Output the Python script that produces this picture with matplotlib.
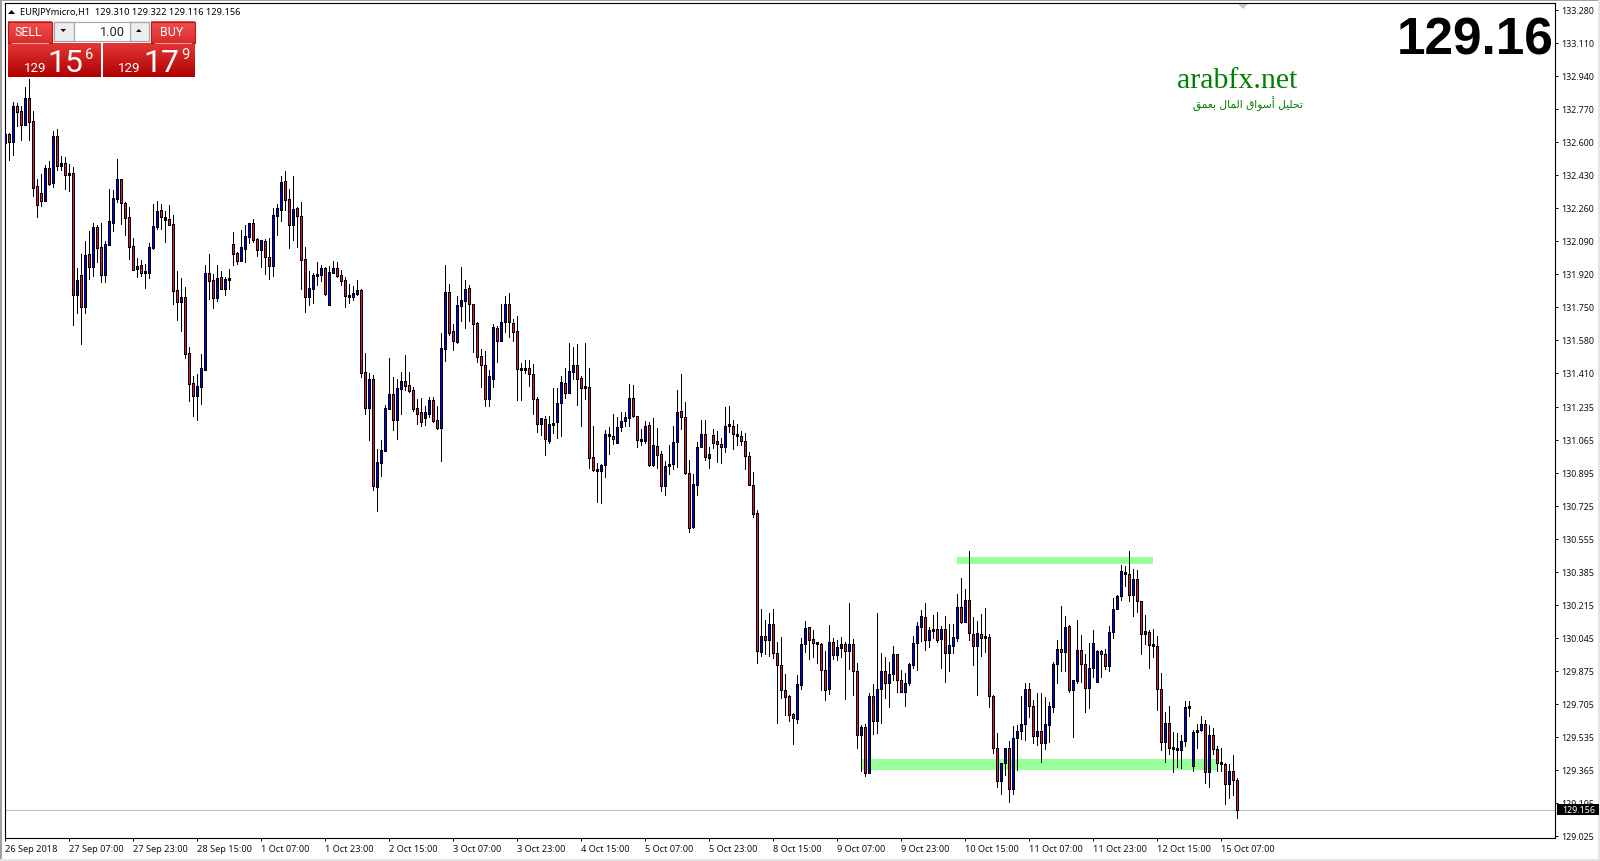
import numpy as np
import matplotlib
matplotlib.use("Agg")
import matplotlib.pyplot as plt
from matplotlib.patches import Rectangle, Polygon
from matplotlib.transforms import ScaledTranslation

symbol_text = "EURJPYmicro,H1  129.310 129.322 129.116 129.156"
big_price = "129.16"
last_price = 129.156
last_label = "129.156"

highs = [
132.693,132.646,132.804,132.801,132.787,132.882,132.924,132.758,132.409,132.433,
132.480,132.500,132.656,132.665,132.526,132.521,132.486,132.471,131.949,132.021,
132.088,132.139,132.181,132.172,132.181,132.088,132.356,132.352,132.512,132.407,
132.289,132.263,132.103,132.000,131.990,131.969,132.078,132.280,132.294,132.280,
132.243,132.275,132.224,131.935,131.897,131.851,131.542,131.392,131.402,131.506,
131.964,132.021,131.918,131.964,131.935,131.902,131.945,132.134,132.031,132.146,
132.172,132.180,132.201,132.107,132.095,132.098,132.103,132.258,132.278,132.423,
132.448,132.356,132.423,132.263,132.289,132.057,131.935,131.923,131.979,131.964,
131.957,131.959,131.985,131.979,131.938,131.902,131.866,131.858,131.887,131.840,
131.511,131.407,131.397,131.016,131.062,131.243,131.485,131.387,131.377,131.413,
131.500,131.413,131.335,131.273,131.279,131.237,131.284,131.284,131.237,131.614,
131.964,131.866,131.660,131.804,131.954,131.887,131.861,131.763,131.670,131.532,
131.521,131.425,131.662,131.653,131.763,131.804,131.820,131.686,131.701,131.463,
131.475,131.475,131.454,131.284,131.176,131.186,131.186,131.331,131.331,131.393,
131.434,131.563,131.542,131.557,131.393,131.563,131.434,131.135,130.944,130.939,
131.114,131.130,131.197,131.181,131.207,131.207,131.351,131.346,131.186,131.119,
131.161,131.155,131.176,131.125,131.006,130.955,131.037,131.135,131.320,131.403,
131.259,130.960,130.887,131.052,131.166,131.166,131.027,131.119,131.109,131.073,
131.233,131.238,131.166,131.145,131.109,131.099,131.001,130.898,130.702,130.191,
130.135,130.171,130.191,130.021,130.047,129.856,129.748,129.655,129.851,130.042,
130.130,130.099,130.083,130.021,130.016,129.975,130.109,130.042,130.032,130.047,
130.021,130.222,130.037,129.913,129.594,129.599,129.758,129.805,130.171,129.965,
129.944,129.918,130.001,129.959,129.877,129.862,129.913,130.052,130.124,130.186,
130.222,130.099,130.162,130.176,130.104,130.155,130.114,130.114,130.269,130.351,
130.294,130.490,130.150,130.130,130.166,130.196,130.062,129.748,129.553,129.398,
129.475,129.511,129.589,129.594,129.743,129.810,129.810,129.723,129.759,129.759,
129.738,129.712,129.918,130.032,130.207,130.155,130.109,129.826,130.135,130.058,
129.960,130.016,130.083,129.980,129.980,129.985,130.104,130.248,130.264,130.418,
130.413,130.490,130.398,130.393,130.233,130.161,130.083,130.088,130.052,129.862,
129.661,129.692,129.558,129.553,129.542,129.717,129.717,129.568,129.599,129.640,
129.620,129.594,129.578,129.486,129.475,129.398,129.393,129.439,129.322]

body_tops = [
132.641,132.641,132.784,132.784,132.758,132.825,132.825,132.706,132.371,132.335,
132.464,132.464,132.629,132.629,132.490,132.490,132.438,132.438,131.887,131.913,
132.016,132.021,132.160,132.160,132.057,132.072,132.191,132.309,132.407,132.407,
132.284,132.212,132.062,131.961,131.964,131.933,132.057,132.165,132.243,132.248,
132.212,132.201,132.175,131.835,131.799,131.799,131.511,131.356,131.341,131.433,
131.923,131.923,131.887,131.897,131.902,131.892,131.897,132.072,132.026,132.057,
132.113,132.180,132.180,132.098,132.093,132.088,132.005,132.222,132.258,132.392,
132.397,132.304,132.253,132.258,132.217,131.995,131.845,131.912,131.918,131.949,
131.949,131.928,131.949,131.949,131.912,131.887,131.811,131.820,131.835,131.835,
131.413,131.377,131.377,130.949,131.011,131.227,131.299,131.299,131.330,131.366,
131.366,131.346,131.320,131.227,131.206,131.206,131.268,131.268,131.165,131.536,
131.825,131.825,131.624,131.758,131.784,131.840,131.845,131.763,131.665,131.496,
131.449,131.393,131.645,131.641,131.670,131.763,131.763,131.665,131.624,131.434,
131.434,131.434,131.403,131.274,131.176,131.171,131.145,131.150,131.253,131.362,
131.356,131.418,131.449,131.449,131.382,131.341,131.336,130.975,130.913,130.934,
131.094,131.088,131.083,131.130,131.161,131.181,131.279,131.279,131.186,131.068,
131.135,131.140,131.037,131.032,130.991,130.929,130.939,131.052,131.207,131.212,
131.181,130.893,130.836,131.027,131.094,131.094,130.991,131.088,131.058,131.042,
131.135,131.140,131.135,131.094,131.083,131.058,130.980,130.831,130.686,130.052,
130.052,130.114,130.114,129.965,129.903,129.774,129.743,129.650,129.805,130.011,
130.093,130.099,130.037,130.018,130.011,129.877,130.021,130.021,129.996,130.011,
130.011,130.011,130.011,129.872,129.583,129.583,129.743,129.743,129.779,129.872,
129.872,129.856,129.959,129.959,129.825,129.810,129.908,130.016,130.104,130.155,
130.150,130.083,130.088,130.088,130.088,130.088,130.006,130.047,130.202,130.202,
130.238,130.238,130.062,130.068,130.062,130.052,130.047,129.743,129.475,129.398,
129.475,129.475,129.527,129.563,129.599,129.779,129.779,129.692,129.563,129.563,
129.599,129.692,129.908,129.985,129.985,130.099,130.104,129.826,129.980,129.980,
129.908,129.887,130.016,129.975,129.975,129.960,130.073,130.192,130.259,130.387,
130.382,130.372,130.346,130.346,130.233,130.078,130.073,130.006,130.001,129.779,
129.604,129.604,129.475,129.475,129.511,129.687,129.687,129.558,129.568,129.599,
129.599,129.542,129.542,129.470,129.398,129.393,129.357,129.357,129.310]

body_bottoms = [
132.595,132.602,132.602,132.756,132.689,132.689,132.705,132.364,132.277,132.297,
132.297,132.385,132.390,132.478,132.478,132.431,132.431,131.813,131.813,131.751,
131.751,131.957,131.957,132.055,131.916,131.916,132.071,132.184,132.308,132.284,
132.210,132.060,131.942,131.947,131.926,131.926,131.926,132.055,132.163,132.215,
132.200,132.174,131.834,131.777,131.777,131.509,131.354,131.293,131.293,131.339,
131.427,131.885,131.798,131.798,131.844,131.844,131.890,132.024,131.988,131.988,
132.050,132.112,132.096,132.045,132.045,132.009,131.962,131.962,132.220,132.251,
132.302,132.174,132.174,132.220,131.993,131.803,131.803,131.844,131.911,131.916,
131.818,131.761,131.926,131.911,131.885,131.808,131.803,131.803,131.818,131.411,
131.231,131.231,130.829,130.823,130.947,131.009,131.222,131.169,131.169,131.328,
131.344,131.318,131.225,131.200,131.158,131.179,131.200,131.164,131.124,131.127,
131.535,131.617,131.572,131.567,131.756,131.782,131.763,131.660,131.490,131.453,
131.277,131.277,131.377,131.576,131.576,131.670,131.670,131.619,131.432,131.427,
131.427,131.403,131.274,131.145,131.149,131.068,131.061,131.143,131.155,131.253,
131.305,131.305,131.417,131.381,131.334,131.334,130.970,130.912,130.906,130.903,
130.934,131.083,131.068,131.047,131.130,131.161,131.176,131.186,131.063,131.058,
131.058,130.936,130.937,130.989,130.829,130.829,130.929,130.939,131.052,131.181,
130.896,130.613,130.618,130.834,131.027,130.975,130.970,131.047,131.042,131.027,
131.027,131.135,131.094,131.083,131.058,130.980,130.831,130.685,129.975,129.973,
130.035,130.035,129.968,129.903,129.774,129.741,129.649,129.630,129.624,129.800,
130.011,130.035,130.016,130.011,129.877,129.777,129.779,129.954,129.954,129.990,
129.975,129.975,129.872,129.545,129.545,129.346,129.346,129.614,129.614,129.779,
129.810,129.810,129.856,129.825,129.764,129.764,129.810,129.903,130.016,130.099,
130.032,130.032,130.081,130.032,130.037,129.965,129.965,130.001,130.042,130.124,
130.124,130.068,130.001,130.001,130.042,130.042,129.743,129.475,129.305,129.305,
129.398,129.264,129.264,129.527,129.563,129.599,129.692,129.537,129.537,129.501,
129.501,129.594,129.687,129.908,129.970,129.970,129.774,129.774,129.821,129.908,
129.784,129.784,129.887,129.815,129.960,129.898,129.898,130.073,130.192,130.259,
130.372,130.264,130.264,130.233,130.063,130.063,130.006,130.001,129.779,129.506,
129.506,129.475,129.470,129.465,129.465,129.511,129.683,129.382,129.558,129.568,
129.352,129.352,129.470,129.398,129.393,129.290,129.290,129.310,129.156]

lows = [
132.538,132.509,132.533,132.684,132.612,132.689,132.612,132.323,132.215,132.272,
132.297,132.380,132.370,132.456,132.456,132.358,132.349,131.658,131.720,131.561,
131.720,131.896,131.911,131.983,131.880,131.880,132.071,132.143,132.289,132.179,
132.122,131.999,131.942,131.906,131.911,131.849,131.901,132.047,132.151,132.153,
132.086,132.174,131.767,131.684,131.628,131.485,131.267,131.189,131.169,131.251,
131.427,131.791,131.746,131.782,131.844,131.813,131.842,131.966,131.971,131.988,
131.981,132.081,132.086,132.012,131.957,131.921,131.895,131.911,132.122,132.194,
132.251,132.055,132.096,132.060,131.844,131.725,131.761,131.772,131.864,131.885,
131.813,131.761,131.926,131.906,131.864,131.751,131.772,131.787,131.813,131.389,
131.200,131.066,130.808,130.700,130.880,131.009,131.222,131.117,131.071,131.200,
131.323,131.313,131.215,131.148,131.138,131.139,131.184,131.158,131.119,130.957,
131.473,131.607,131.529,131.562,131.679,131.643,131.679,131.519,131.468,131.338,
131.241,131.241,131.339,131.468,131.576,131.621,131.595,131.574,131.272,131.272,
131.411,131.344,131.200,131.107,131.092,130.989,131.051,131.102,131.076,131.087,
131.279,131.305,131.377,131.247,131.135,131.274,130.922,130.906,130.743,130.738,
130.875,130.991,131.042,131.047,131.109,131.135,131.138,131.181,131.027,131.037,
131.047,130.932,130.932,130.922,130.803,130.783,130.891,130.917,130.927,131.119,
130.887,130.592,130.613,130.783,131.027,130.960,130.922,131.021,130.953,130.944,
131.001,131.104,131.016,131.037,131.037,130.913,130.831,130.669,129.916,129.953,
129.963,129.953,129.942,129.607,129.736,129.649,129.618,129.499,129.607,129.783,
129.973,129.937,129.947,129.916,129.777,129.726,129.757,129.937,129.932,129.947,
129.731,129.886,129.752,129.478,129.360,129.331,129.346,129.551,129.556,129.607,
129.736,129.690,129.825,129.767,129.764,129.695,129.800,129.891,129.880,130.026,
129.982,129.996,130.045,130.021,129.891,129.815,129.875,129.965,130.026,130.119,
130.124,130.032,129.903,129.752,129.949,129.970,129.690,129.449,129.278,129.242,
129.340,129.200,129.242,129.365,129.522,129.520,129.638,129.501,129.491,129.406,
129.474,129.506,129.661,129.814,129.872,129.872,129.764,129.535,129.810,129.815,
129.664,129.685,129.841,129.815,129.841,129.882,129.872,130.042,130.192,130.238,
130.310,130.233,130.155,130.176,129.960,130.011,129.887,129.944,129.671,129.468,
129.406,129.448,129.352,129.381,129.376,129.489,129.640,129.357,129.479,129.563,
129.298,129.274,129.444,129.357,129.357,129.190,129.221,129.236,129.116]

directions = (
"UDUDDUDDDD" "UDUDUDDDUD" "UDUDDUUUUD" "DDDUDDUUUD" "DDDDUDDDUU"
"UDDUDUUDDU" "UUDDUDDUUU" "DDUDDDUUUU" "DUUDDDDUUD" "DUDUUUUDUU"
"DDDDDUUDDU" "UDDUUUDDDD" "DUUDUUDDDD" "DDDDUDUDUU" "DUUDDDDDDU"
"UDDUUUUDDD" "UDUDDUUUUD" "DDUUUDUDDD" "UDDDDDDDDU" "DUDDDDDDUU"
"UDDDDDUDUU" "DUDDUDUDUU" "DUUDDUUUUU" "DUDDUDUUUD" "UDDUDUDDDU"
"UDUUUUDDUD" "UUUUDUDUUD" "DUUUDDUUUU" "DDUDDUDDDD" "UDDDUUDUUU"
"DUDDDDUDD")

time_labels = ["26 Sep 2018", "27 Sep 07:00", "27 Sep 23:00", "28 Sep 15:00", "1 Oct 07:00",
               "1 Oct 23:00", "2 Oct 15:00", "3 Oct 07:00", "3 Oct 23:00", "4 Oct 15:00",
               "5 Oct 07:00", "5 Oct 23:00", "8 Oct 15:00", "9 Oct 07:00", "9 Oct 23:00",
               "10 Oct 15:00", "11 Oct 07:00", "11 Oct 23:00", "12 Oct 15:00", "15 Oct 07:00"]
time_ticks = list(range(0, 320, 16))
price_ticks = [133.280, 133.110, 132.940, 132.770, 132.600, 132.430, 132.260, 132.090, 131.920,
               131.750, 131.580, 131.410, 131.235, 131.065, 130.895, 130.725, 130.555, 130.385,
               130.215, 130.045, 129.875, 129.705, 129.535, 129.365, 129.195, 129.025]

# green zones: first bar, last bar, upper price, lower price
resistance_zone = (237.9, 286.9, 130.461, 130.425)
support_zone = (214.0, 303.2, 129.420, 129.365)

W, H = 1600, 862
UI_FONT = "Noto Sans"
fig = plt.figure(figsize=(W / 100, H / 100), dpi=100, facecolor="white")
L, R, T, B = 4.67, 1555.0, 4.3, 839.3
ax = fig.add_axes([L / W, (H - B) / H, (R - L) / W, (B - T) / H])
ax.set_xlim((L - 5.33) / 4, (R - 5.33) / 4)
ax.set_ylim(133.28 - (B - 11) / 194.05, 133.28 + (11 - T) / 194.05)

n = len(highs)
xs = np.arange(n)
hi, tp, bt, lo = map(np.array, (highs, body_tops, body_bottoms, lows))
up = np.array([d == "U" for d in directions])
opens = np.where(up, bt, tp)
closes = np.where(up, tp, bt)
one_px = 1 / 194.05
PT = 0.72  # one screen pixel in points at 100 dpi

for zone in (resistance_zone, support_zone):
    ax.add_patch(Rectangle((zone[0], zone[3]), zone[1] - zone[0], zone[2] - zone[3],
                           facecolor="#99FF99", edgecolor="none", zorder=1))
ax.axhline(last_price, color="#C0C0C0", lw=0.8, zorder=1.5)
ax.vlines(xs, lo, hi, colors="black", lw=PT, zorder=2, antialiased=False, capstyle="butt")
# candle body: a 3 px black stroke with a 1 px coloured core, aligned on the wick
lower = np.minimum(opens, closes)
span = np.abs(closes - opens)
ax.vlines(xs, lower, lower + np.maximum(span, 2 * one_px), colors="black", lw=3 * PT, zorder=3,
          antialiased=False, capstyle="butt")
colors = np.where(up, "#0000F0", "#E01840")
core = span > 2.5 * one_px
ax.vlines(xs[core], lower[core] + one_px, lower[core] + span[core] - one_px, colors=colors[core],
          lw=PT, zorder=4, antialiased=False, capstyle="butt")

ax.yaxis.tick_right()
ax.set_yticks(price_ticks)
ax.set_yticklabels([f"{v:.3f}" for v in price_ticks], fontfamily=UI_FONT, fontsize=6.4, color="#111111")
ax.set_xticks(time_ticks)
ax.set_xticklabels(time_labels, fontfamily=UI_FONT, fontsize=6.6, color="#111111", ha="left")
shift = ScaledTranslation(-2.5 / 100, 0, fig.dpi_scale_trans)
for lab in ax.get_xticklabels():
    lab.set_transform(lab.get_transform() + shift)
yshift = ScaledTranslation(0, -0.8 / 100, fig.dpi_scale_trans)
for lab in ax.get_yticklabels():
    lab.set_transform(lab.get_transform() + yshift)
ax.tick_params(axis="y", length=2.2, width=0.7, pad=2.6, direction="out")
ax.tick_params(axis="x", length=2.2, width=0.7, pad=2.0, direction="out")
for s in ax.spines.values():
    s.set_linewidth(0.8)
    s.set_color("black")

# overlay in screen pixels for the terminal's window furniture
ov = fig.add_axes([0, 0, 1, 1], zorder=5)
ov.patch.set_alpha(0)
ov.axis("off")

def gradient(x0, y0, x1, y1, c_top, c_bottom, edge=None):
    t = np.linspace(0, 1, 64)[:, None, None]
    img = (1 - t) * np.array(c_top)[None, None, :] + t * np.array(c_bottom)[None, None, :]
    ov.imshow(img / 255, extent=(x0, x1, y1, y0), aspect="auto", interpolation="bilinear", zorder=1)
    if edge:
        ov.add_patch(Rectangle((x0, y0), x1 - x0, y1 - y0, fill=False, edgecolor=edge, lw=0.8, zorder=2))

# window edges
ov.add_patch(Rectangle((0, 0), 1600, 1.6, color="#A0A0A0", lw=0))
ov.add_patch(Rectangle((0, 0), 2, 862, color="#A0A0A0", lw=0))
ov.add_patch(Rectangle((1598, 0), 2, 862, color="#E4E4E4", lw=0))
ov.add_patch(Rectangle((0, 860), 1600, 2, color="#E4E4E4", lw=0))

# chart-shift marker and symbol triangle
ov.add_patch(Polygon([(1238, 5), (1248, 5), (1243, 10)], color="#C4C4C4", lw=0))
ov.add_patch(Polygon([(8, 15), (15, 15), (11.5, 11)], color="black", lw=0))
ov.text(20, 12.7, symbol_text, fontsize=6.62, family=UI_FONT, va="center", ha="left", color="black")

# trade panel
gradient(8, 22.5, 52, 44, (240, 80, 80), (218, 45, 45), "#B81818")
gradient(151, 22.5, 194.5, 44, (240, 80, 80), (218, 45, 45), "#B81818")
gradient(8, 44, 100.5, 77.5, (228, 55, 55), (176, 0, 0))
gradient(103, 44, 194.5, 77.5, (228, 55, 55), (176, 0, 0))
ov.plot([12, 48], [43.5, 43.5], color="#F6A0A0", lw=0.7, zorder=3)
ov.plot([155, 191], [43.5, 43.5], color="#F6A0A0", lw=0.7, zorder=3)
ov.add_patch(Rectangle((54, 22.5), 95, 19, facecolor="white", edgecolor="#A8A8A8", lw=0.9, zorder=2))
for bx in (54, 129.5):
    ov.add_patch(Rectangle((bx, 22.5), 19.5, 19, facecolor="#EDEDED", edgecolor="#A8A8A8", lw=0.9, zorder=3))
ov.add_patch(Polygon([(60.5, 30), (66, 30), (63.2, 33)], color="black", lw=0, zorder=4))
ov.add_patch(Polygon([(136, 33), (141.5, 33), (138.8, 30)], color="black", lw=0, zorder=4))
ov.text(125, 32, "1.00", fontsize=9.2, family="Roboto", ha="right", va="center", color="#222222", zorder=4)
ov.text(28.7, 32.5, "SELL", fontsize=9, family="Roboto", ha="center", va="center", color="white", zorder=4)
ov.text(172, 32.5, "BUY", fontsize=9, family="Roboto", ha="center", va="center", color="white", zorder=4)
for (x_small, x_big, x_sup, big, sup) in ((35.5, 65.5, 89.5, "15", "6"), (129.5, 161, 185.5, "17", "9")):
    ov.text(x_small, 68.5, "129", fontsize=9.6, family="Roboto", ha="center", va="center", color="white", zorder=4)
    ov.text(x_big, 63, big, fontsize=23, family="Roboto", ha="center", va="center", color="white", zorder=4)
    ov.text(x_sup, 55, sup, fontsize=10.5, family="Roboto", ha="center", va="center", color="white", zorder=4)

# large price and branding
ov.text(1553.5, 41, big_price, fontsize=37, family="Liberation Sans", fontweight="bold",
        ha="right", va="center", color="black")
ov.text(1237, 87.5, "arabfx.net", fontsize=21.5, family="Liberation Serif", ha="center",
        va="baseline", color="#008000")
arabic_visual = ("\uFED6\uFEE4\uFECC\uFE91 \uFEDD\uFE8E\uFEE4\uFEDF\uFE8D "
                 "\uFED5\uFE8D\uFEEE\uFEB3\uFE83 \uFEDE\uFEF4\uFEE0\uFEA4\uFE97")
ov.text(1247.5, 104.5, arabic_visual, fontsize=7.7, family="DejaVu Sans", ha="center",
        va="center", color="#008000")

# last-price tag
ov.add_patch(Rectangle((1557, 805), 42, 10.8, color="black", lw=0, zorder=3))
ov.text(1562, 810.6, last_label, fontsize=6.4, family=UI_FONT, color="white", ha="left", va="center", zorder=4)

ov.set_xlim(0, W)
ov.set_ylim(H, 0)
fig.savefig("out.png", dpi=100)
